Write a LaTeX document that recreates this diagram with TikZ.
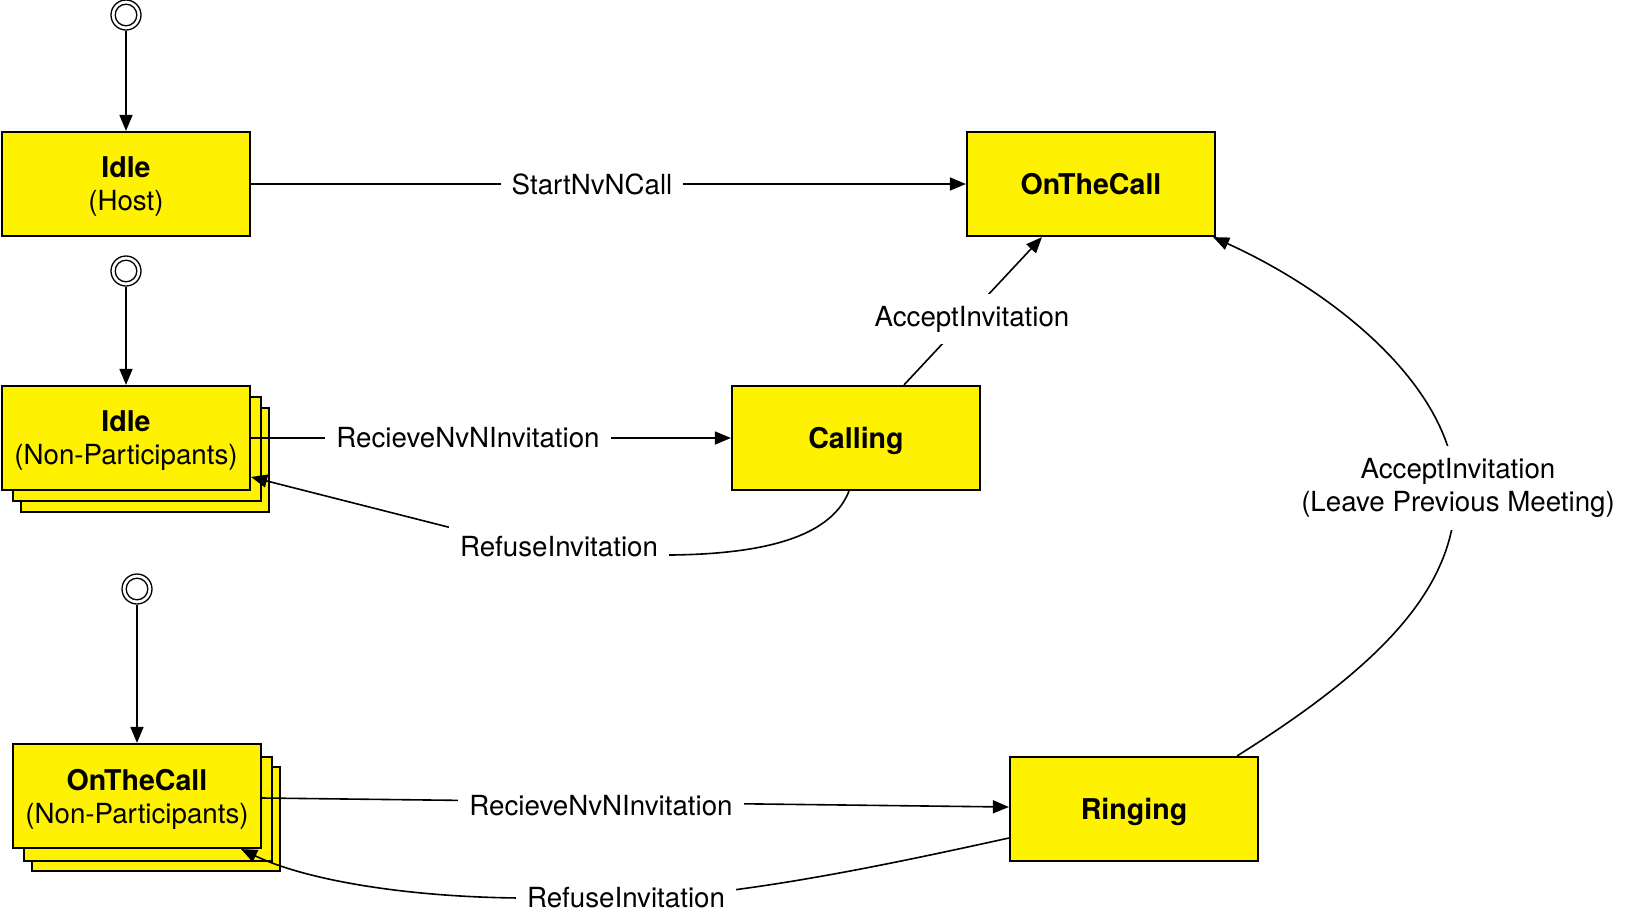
\documentclass[tikz,border=0pt]{standalone}
\usepackage{fontspec}
\setmainfont{TeX Gyre Heros}
\usetikzlibrary{arrows.meta}
\newcommand\dfont{\fontsize{27.7}{33}\selectfont}
\newcommand\bfnt[1]{{\fontsize{28.6}{33}\selectfont\bfseries #1}}
\begin{document}
\begin{tikzpicture}[x=1pt,y=-1pt,
 state/.style={draw=black, fill=yellow, line width=2.2pt, minimum width=248pt, minimum height=104pt, inner sep=0pt, align=center, font=\dfont, text depth=0pt},
 conn/.style={line width=1.6pt},
 arr/.style={conn, -{Triangle[length=16pt,width=13pt]}},
 lbl/.style={fill=white, inner xsep=11pt, inner ysep=12pt, font=\dfont, align=center},
 initst/.style={circle, draw=black, line width=1.3pt, minimum size=30pt, inner sep=0pt, fill=white},
]
\useasboundingbox (0,0) rectangle (1626,922);
% initial states
\node[initst] (init1) at (126,15) {};
\node[initst] (init2) at (126,271) {};
\node[initst] (init3) at (137,589) {};
\draw[line width=1.3pt] (init1.center) circle (10.8pt);
\draw[line width=1.3pt] (init2.center) circle (10.8pt);
\draw[line width=1.3pt] (init3.center) circle (10.8pt);
% states
\node[state] (idleHost) at (126,184) {\bfnt{Idle}\\(Host)};
\node[state] (idleNPc) at (145,460) {};
\node[state] (idleNPb) at (137,449) {};
\node[state] (idleNP) at (126,438) {\bfnt{Idle}\\(Non-Participants)};
\node[state] (otcNPc) at (156,819) {};
\node[state] (otcNPb) at (148,809) {};
\node[state] (otcNP) at (137,796) {\bfnt{OnTheCall}\\(Non-Participants)};
\node[state] (otc) at (1091,184) {\bfnt{OnTheCall}};
\node[state] (calling) at (856,438) {\bfnt{Calling}};
\node[state] (ringing) at (1134,809) {\bfnt{Ringing}};
% connectors
\draw[arr] (init1) -- (idleHost);
\draw[arr] (init2) -- (idleNP);
\draw[arr] (init3) -- (otcNP);
\draw[arr] (idleHost) -- (otc);
\draw[arr] (idleNP.east) -- (calling.west);
\draw[arr] ([xshift=-7pt]calling.south) .. controls (828,545) and (740,556) .. (650,555)
  .. controls (570,554) and (500,540) .. (448,527) -- ([yshift=-39pt]idleNP.east);
\draw[arr] ([xshift=48pt]calling.north) -- ([xshift=-49pt]otc.south);
\draw[arr] ([yshift=-2pt]otcNP.east) -- ([yshift=2pt]ringing.west);
\draw[arr] ([yshift=-29pt]ringing.west) .. controls (900,862) and (790,885) .. (690,895)
  -- (540,898) .. controls (420,899) and (310,882) .. ([xshift=-21pt]otcNP.south east);
\draw[arr] ([xshift=-22pt]ringing.north east) .. controls (1390,660) and (1462,580) .. (1455,480)
  .. controls (1445,380) and (1330,290) .. ([xshift=-3pt]otc.south east);
% labels
\node[lbl] (lStart) at (592,184) {StartNvNCall};
\node[lbl] (lRecv1) at (468,438) {RecieveNvNInvitation};
\node[lbl] (lRef1) at (559,547) {RefuseInvitation};
\node[lbl] (lAcc1) at (972,319) {AcceptInvitation};
\node[lbl] (lRecv2) at (601,806) {RecieveNvNInvitation};
\node[lbl] (lRef2) at (626,898) {RefuseInvitation};
\node[lbl] (lAcc2) at (1458,488) {AcceptInvitation\\(Leave Previous Meeting)};
\end{tikzpicture}
\end{document}
